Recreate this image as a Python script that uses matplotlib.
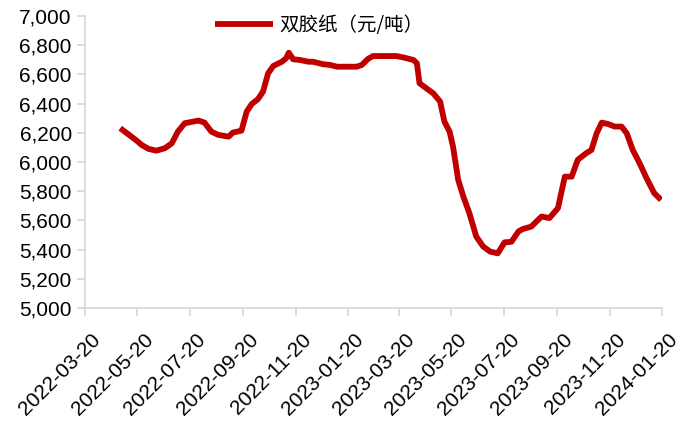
import numpy as np
import pandas as pd
import matplotlib
matplotlib.use("Agg")
import matplotlib.pyplot as plt
import matplotlib.dates as mdates
import matplotlib.transforms as mtransforms
from matplotlib.ticker import FuncFormatter

# 双胶纸价格（元/吨）
dates = [
    "2022-04-30", "2022-05-13", "2022-05-19", "2022-05-25", "2022-06-02", "2022-06-11",
    "2022-06-21", "2022-06-29", "2022-07-06", "2022-07-14", "2022-07-22", "2022-07-30",
    "2022-08-06", "2022-08-14", "2022-08-22", "2022-09-03", "2022-09-08", "2022-09-18",
    "2022-09-24", "2022-09-30", "2022-10-07", "2022-10-13", "2022-10-19", "2022-10-25",
    "2022-11-04", "2022-11-09", "2022-11-12", "2022-11-17", "2022-11-25", "2022-12-05",
    "2022-12-10", "2022-12-22", "2022-12-30", "2023-01-07", "2023-01-30", "2023-02-05",
    "2023-02-12", "2023-02-18", "2023-03-17", "2023-03-25", "2023-04-06", "2023-04-10",
    "2023-04-13", "2023-04-21", "2023-04-29", "2023-05-07", "2023-05-12", "2023-05-18",
    "2023-05-22", "2023-05-28", "2023-06-03", "2023-06-10", "2023-06-18", "2023-06-26",
    "2023-07-04", "2023-07-13", "2023-07-21", "2023-07-29", "2023-08-06", "2023-08-11",
    "2023-08-21", "2023-09-02", "2023-09-11", "2023-09-21", "2023-09-29", "2023-10-07",
    "2023-10-14", "2023-10-24", "2023-10-30", "2023-11-05", "2023-11-11", "2023-11-18",
    "2023-11-26", "2023-12-04", "2023-12-10", "2023-12-17", "2023-12-25", "2024-01-02",
    "2024-01-11", "2024-01-19",
]
prices = [
    6232, 6174, 6147, 6117, 6090, 6078,
    6095, 6129, 6208, 6266, 6275, 6284,
    6270, 6208, 6186, 6174, 6202, 6215,
    6345, 6398, 6430, 6482, 6608, 6658,
    6687, 6711, 6749, 6704, 6699, 6687,
    6687, 6670, 6665, 6653, 6653, 6665,
    6706, 6726, 6726, 6717, 6699, 6676,
    6540, 6505, 6471, 6414, 6277, 6208,
    6106, 5878, 5764, 5650, 5490, 5422,
    5387, 5375, 5450, 5454, 5524, 5541,
    5558, 5627, 5616, 5684, 5900, 5900,
    6015, 6061, 6083, 6197, 6270, 6261,
    6243, 6243, 6197, 6083, 5992, 5890,
    5787, 5741,
]
series_name = "双胶纸（元/吨）"

x = pd.to_datetime(dates)

plt.rcParams['font.family'] = ['Liberation Sans', 'Noto Sans CJK SC', 'DejaVu Sans']

fig = plt.figure(figsize=(6.91, 4.22), dpi=100)
ax = fig.add_axes([0.123, 0.27, 0.835, 0.692])

ax.plot(x, prices, color="#C00000", lw=4.2, solid_joinstyle="round",
        solid_capstyle="butt", label=series_name)

ax.set_xlim(pd.Timestamp("2022-03-20"), pd.Timestamp("2024-01-20"))
ax.set_ylim(5000, 7000)
ax.set_yticks(np.arange(5000, 7001, 200))
ax.yaxis.set_major_formatter(FuncFormatter(lambda v, p: f"{int(v):,}"))
ax.xaxis.set_major_locator(mdates.MonthLocator(bymonth=(1, 3, 5, 7, 9, 11), bymonthday=20))
ax.xaxis.set_major_formatter(mdates.DateFormatter("%Y-%m-%d"))

for side in ("top", "right"):
    ax.spines[side].set_visible(False)
for side in ("left", "bottom"):
    ax.spines[side].set_color("#D9D9D9")
    ax.spines[side].set_linewidth(1.3)

ax.tick_params(axis="both", colors="#D9D9D9", width=1.3, length=6,
               labelcolor="black", labelsize=15)

# rotated date labels, nudged so their ends sit just below-right of each tick
shift = mtransforms.ScaledTranslation(6 / 100, -9 / 100, fig.dpi_scale_trans)
for lbl in ax.get_xticklabels():
    lbl.set_rotation(45)
    lbl.set_ha("right")
    lbl.set_rotation_mode("anchor")
    lbl.set_transform(lbl.get_transform() + shift)

ax.legend(loc="upper left", bbox_to_anchor=(0.212, 1.03), frameon=False,
          handlelength=3.0, handletextpad=0.3, borderaxespad=0,
          prop={"family": ["Noto Sans CJK SC"], "size": 14})

fig.savefig("out.png", dpi=100)
